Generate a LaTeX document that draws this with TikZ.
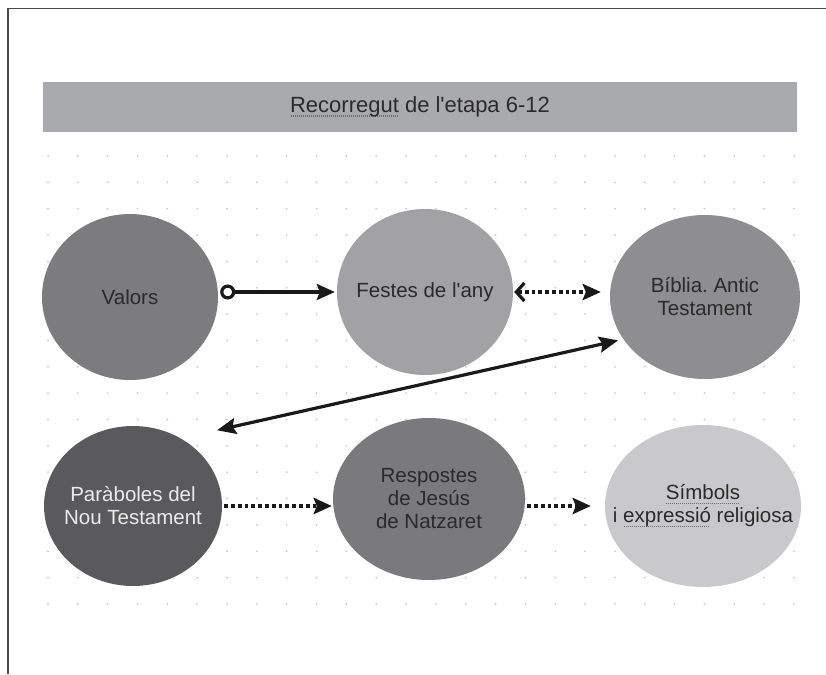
\documentclass[tikz,border=0pt]{standalone}
\usepackage{fontspec}
\newfontfamily\lsans{Liberation Sans}
\usetikzlibrary{arrows.meta,shapes.geometric,calc}
\definecolor{barc}{HTML}{A9AAAD}
\definecolor{cValors}{HTML}{7C7C7E}
\definecolor{cFestes}{HTML}{A2A2A5}
\definecolor{cBiblia}{HTML}{8E8E90}
\definecolor{cPar}{HTML}{5A5A5C}
\definecolor{cResp}{HTML}{7A7A7C}
\definecolor{cSimb}{HTML}{C9C9CB}
\definecolor{txt}{HTML}{2A2A2A}
\definecolor{dotc}{HTML}{C8C8C8}
\definecolor{spellc}{HTML}{6A6A6A}
\frenchspacing
\newsavebox\spbox
\newcommand\spellu[1]{\sbox\spbox{#1}\rlap{\raisebox{-4pt}{\textcolor{spellc}{\leaders\hbox to 2pt{\hss\rule{1pt}{1.2pt}\hss}\hskip\wd\spbox}}}\usebox\spbox}
\tikzset{
  bubble/.style={ellipse,inner sep=0pt},
  btext/.style={align=center,inner sep=0pt,font=\lsans\fontsize{20.5}{23}\selectfont,text=txt},
  solidarr/.style={line width=3.2pt,color=black!90},
  dotarr/.style={line width=3.8pt,color=black!90,dash pattern=on 3.8pt off 3pt},
  tipA/.style={-{Stealth[length=18pt,width=16pt,inset=3pt]}},
}
\begin{document}
\begin{tikzpicture}[x=1pt,y=-1pt]
\useasboundingbox (0,0) rectangle (826,674);
% frame
\draw[line width=1.4pt,color=black!70] (8,674) -- (8,8.5) -- (826,8.5);
% dot grid
\foreach \i in {0,...,25}{
  \foreach \j in {0,...,17}{
    \fill[dotc] (48+\i*29.84,156+\j*26.35) circle (1pt);
  }
}
% header
\node[fill=barc,minimum width=754pt,minimum height=50pt,inner sep=0pt,
      font=\lsans\fontsize{22}{25}\selectfont,text=txt] (hdr) at (420,107) {\spellu{Recorregut} de l'etapa 6-12};
% bubbles
\node[bubble,fill=cValors,minimum width=176pt,minimum height=166pt] (val) at (130,297) {};
\node[bubble,fill=cFestes,minimum width=176pt,minimum height=166pt] (fes) at (425,292) {};
\node[bubble,fill=cBiblia,minimum width=190pt,minimum height=164pt] (bib) at (705,297) {};
\node[bubble,fill=cPar,minimum width=178pt,minimum height=160pt] (par) at (133,506) {};
\node[bubble,fill=cResp,minimum width=192pt,minimum height=162pt] (res) at (429,499) {};
\node[bubble,fill=cSimb,minimum width=196pt,minimum height=162pt] (sim) at (703,506) {};
% texts
\node[btext] (valt) at (val.center) {Valors};
\node[btext] (fest) at (fes.center) {Festes de l'any};
\node[btext] (bibt) at (bib.center) {Bíblia. Antic\\Testament};
\node[btext,text=white!92!black] (part) at (par.center) {Paràboles del\\Nou Testament};
\node[btext] (rest) at (res.center) {Respostes\\de Jesús\\de Natzaret};
\node[btext] (simt) at (sim.center) {\spellu{Símbols}\\i \spellu{expressió} religiosa};
% connectors
\draw[solidarr,{Circle[open,length=15pt,width=15pt,line width=3.2pt]}-{Stealth[length=18pt,width=16pt,inset=3pt]}]
  ([xshift=2pt]val.east |- fes.west) -- ([xshift=-2pt]fes.west);
\draw[dotarr,{Straight Barb[length=8pt,width=18pt,line width=3.2pt]}-{Stealth[length=18pt,width=16pt,inset=3pt]}]
  ([xshift=1pt]fes.east) -- ([xshift=-9pt]bib.west |- fes.east);
\draw[solidarr,{Stealth[length=19pt,width=16pt,inset=3pt]}-{Stealth[length=19pt,width=16pt,inset=3pt]}]
  ($(par.42)+(21,-19)$) -- ($(bib.206)+(-4,3)$);
\draw[dotarr,tipA] ([xshift=2pt]par.east) -- ([xshift=-1pt]res.west |- par.east);
\draw[dotarr,tipA] ([xshift=2pt]res.east |- sim.west) -- ([xshift=-14pt]sim.west);
\end{tikzpicture}
\end{document}
